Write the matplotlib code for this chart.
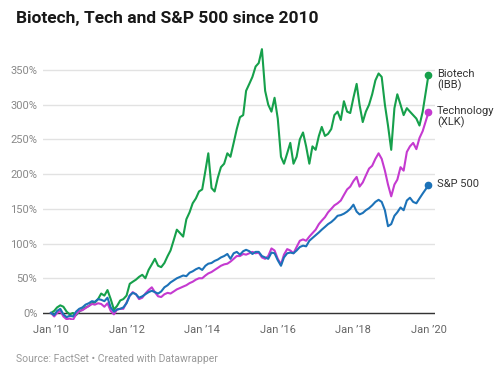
import matplotlib
matplotlib.use('Agg')
import matplotlib.pyplot as plt
import pandas as pd

# Retorno acumulado (%) desde jan/2010, valores mensais
biotech = [0, 3, 8, 11, 9, 2, -2, 0, -3, 2, 5, 8,
           10, 14, 15, 20, 28, 25, 33, 20, 5, 10, 18, 20,
           25, 42, 45, 48, 52, 55, 50, 62, 70, 78, 68, 66,
           72, 82, 90, 105, 120, 115, 110, 135, 145, 158, 165, 175,
           178, 205, 230, 180, 175, 195, 210, 215, 230, 225, 245, 265,
           282, 285, 320, 330, 340, 355, 360, 380, 320, 300, 290, 310,
           280, 225, 215, 230, 245, 215, 225, 250, 260, 240, 215, 240,
           235, 255, 268, 255, 258, 265, 285, 290, 278, 305, 290, 288,
           310, 330, 300, 275, 290, 300, 315, 335, 345, 340, 300, 270,
           235, 295, 315, 300, 285, 295, 290, 285, 280, 270, 290, 343]

tech = [0, -5, 0, 3, -5, -9, -8, -10, -2, 3, 4, 7,
        10, 13, 12, 14, 13, 9, 14, 3, -2, 5, 6, 6,
        15, 25, 30, 27, 20, 22, 28, 33, 37, 30, 24, 23,
        27, 29, 28, 31, 34, 36, 38, 40, 43, 45, 48, 50,
        50, 54, 57, 59, 62, 65, 68, 70, 71, 74, 78, 82,
        82, 85, 84, 86, 88, 86, 87, 80, 78, 82, 93, 90,
        78, 70, 84, 92, 90, 86, 95, 104, 106, 104, 110, 115,
        120, 128, 133, 138, 145, 150, 155, 158, 162, 170, 178, 182,
        190, 196, 182, 188, 198, 208, 212, 222, 230, 222, 205, 185,
        168, 185, 192, 210, 205, 232, 240, 245, 236, 252, 262, 289]

sp500 = [0, -3, 3, 6, -2, -6, -4, -5, 2, 6, 8, 12,
         14, 17, 16, 20, 19, 17, 22, 8, 2, 5, 6, 8,
         14, 25, 29, 27, 22, 24, 27, 30, 32, 30, 28, 31,
         37, 40, 44, 47, 50, 52, 54, 53, 58, 60, 63, 65,
         62, 68, 71, 72, 75, 77, 80, 82, 85, 78, 86, 88,
         84, 89, 91, 89, 85, 88, 88, 82, 80, 78, 87, 86,
         76, 68, 80, 86, 87, 86, 90, 95, 97, 96, 104, 108,
         112, 116, 120, 124, 128, 131, 135, 140, 141, 143, 146, 150,
         156, 146, 142, 144, 148, 151, 155, 160, 163, 160, 148, 125,
         128, 140, 145, 152, 148, 162, 166, 160, 158, 165, 172, 184]

datas = pd.date_range('2010-01-01', periods=120, freq='MS')
datas = datas[:-1].append(pd.DatetimeIndex(['2019-12-27']))

series = [('Biotech\n(IBB)', biotech, '#16a04b'),
          ('Technology\n(XLK)', tech, '#c53ad0'),
          ('S&P 500', sp500, '#1c72b8')]

plt.rcParams['font.family'] = ['Roboto', 'DejaVu Sans']

fig = plt.figure(figsize=(5, 3.77), dpi=100)
ax = fig.add_axes([0.086, 0.1514, 0.784, 0.7366])

for nome, valores, cor in series:
    ax.plot(datas, valores, color=cor, linewidth=1.5, zorder=3)
    ax.plot(datas[-1], valores[-1], 'o', color=cor, markersize=4.5, zorder=4)
    ax.annotate(nome, xy=(datas[-1], valores[-1]), xytext=(6, 4.5),
                textcoords='offset points', va='top', ha='left',
                fontsize=8, color='#333333', linespacing=1.1,
                annotation_clip=False)

ax.set_ylim(-10, 390)
ax.set_xlim(pd.Timestamp('2009-10-16'), pd.Timestamp('2020-02-28'))
ax.set_yticks(range(0, 351, 50))
ax.set_yticklabels(['{}%'.format(v) for v in range(0, 351, 50)])
anos = [pd.Timestamp('{}-01-01'.format(a)) for a in range(2010, 2021, 2)]
ax.set_xticks(anos)
ax.set_xticklabels(['Jan \u2019{}'.format(str(a.year)[2:]) for a in anos])

ax.grid(axis='y', color='#e2e2e2', linewidth=1, zorder=0)
ax.axhline(0, color='#333333', linewidth=1, zorder=2)
for s in ax.spines.values():
    s.set_visible(False)
ax.tick_params(length=0, labelsize=8, colors='#888888')
ax.tick_params(axis='y', pad=4)
ax.tick_params(axis='x', pad=4, colors='#666666')

fig.text(0.032, 0.952, 'Biotech, Tech and S&P 500 since 2010', fontsize=12.5,
         fontweight='bold', color='#181818', va='center')
fig.text(0.032, 0.048, 'Source: FactSet \u2022 Created with Datawrapper',
         fontsize=7.5, color='#999999', va='center')

fig.savefig('out.png', dpi=100)
